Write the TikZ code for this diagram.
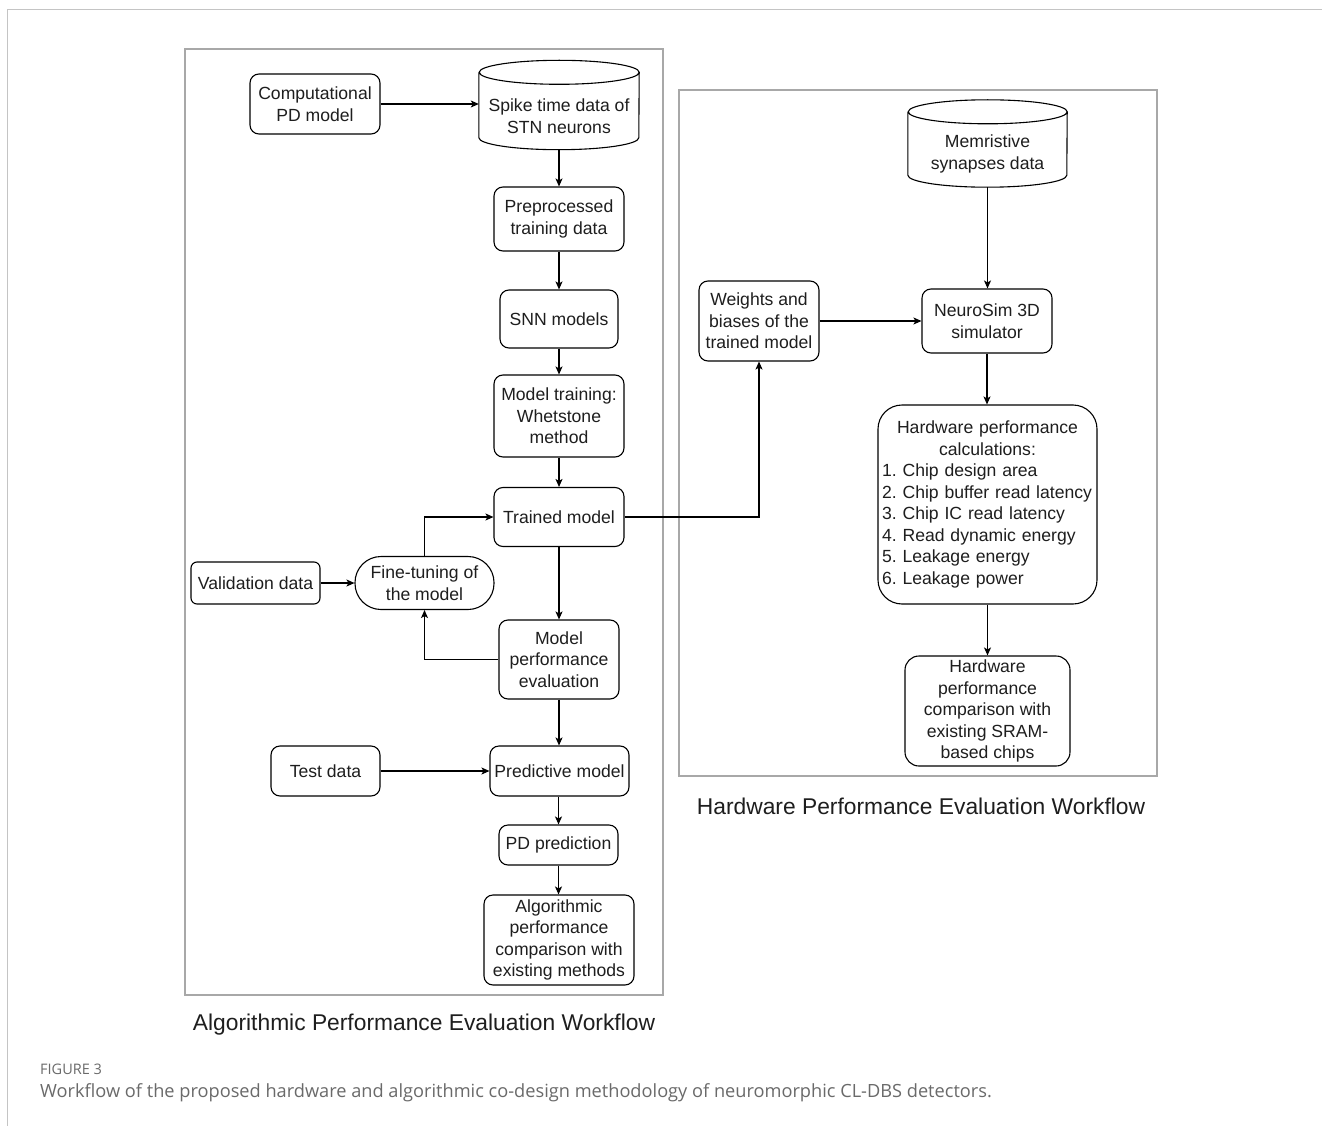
\documentclass[tikz,border=0pt]{standalone}
\usepackage{fontspec}
\setmainfont{Liberation Sans}
\newfontfamily\capfont{Open Sans}
\usetikzlibrary{arrows.meta}
\frenchspacing
\definecolor{panelgray}{HTML}{A8A8A8}
\definecolor{framegray}{HTML}{C4C4C4}
\definecolor{txt}{HTML}{1E1E1E}
\definecolor{capgray}{HTML}{6A6A6A}
\newcommand\mycyl[3]{% node, half width, ry
  \draw[line width=1.1pt] ([yshift=-#3]#1.north west) -- ([yshift=#3]#1.south west)
    arc[start angle=180,end angle=360,x radius=#2,y radius=#3]
    -- ([yshift=-#3]#1.north east)
    arc[start angle=0,end angle=180,x radius=#2,y radius=#3]
    arc[start angle=180,end angle=360,x radius=#2,y radius=#3];}
\begin{document}
\begin{tikzpicture}[x=1pt,y=-1pt,
  box/.style={draw=black, line width=1.1pt, rounded corners=9pt, align=center, inner sep=0pt, text=txt, font=\fontsize{17.6}{21.5}\selectfont},
  plain/.style={align=center, inner sep=0pt, text=txt, font=\fontsize{17.6}{21.5}\selectfont},
  cylbox/.style={inner sep=0pt},
  arr/.style={-{Stealth[length=8pt,width=7pt,inset=2pt]}, line width=1.1pt},
  panel/.style={draw=panelgray, line width=2.5pt},
  title/.style={inner sep=0pt, text=txt, font=\fontsize{22.8}{26}\selectfont},
]
\useasboundingbox[fill=white] (0,0) rectangle (1322,1126);
% outer frame
\draw[framegray, line width=1pt] (1322,10) -- (7,10) -- (7,1126);
% panels
\draw[panel] (185,49) rectangle (663,995);
\draw[panel] (679,90) rectangle (1157,776);

% ---- left workflow ----
\node[box, minimum width=130pt, minimum height=60pt] (comp) at (315,104) {Computational\\PD model};
\node[cylbox, minimum width=160pt, minimum height=89pt] (spike) at (559,105) {};
\mycyl{spike}{80pt}{12pt}
\node[plain] (spiket) at (559,116) {Spike time data of\\STN neurons};
\node[box, minimum width=130pt, minimum height=64pt] (pre) at (559,219) {Preprocessed\\training data};
\node[box, minimum width=118pt, minimum height=58pt] (snn) at (559,319) {SNN models};
\node[box, minimum width=130pt, minimum height=82pt] (train) at (559,416) {Model training:\\Whetstone\\method};
\node[box, minimum width=130pt, minimum height=59pt] (trained) at (559,517) {Trained model};
\node[box, minimum width=129pt, minimum height=42pt, rounded corners=6pt] (val) at (255.5,583) {Validation data};
\node[box, minimum width=139pt, minimum height=53pt, rounded corners=26pt] (fine) at (424.5,583) {Fine-tuning of\\the model};
\node[box, minimum width=120pt, minimum height=79pt] (eval) at (559,659.5) {Model\\performance\\evaluation};
\node[box, minimum width=109pt, minimum height=50pt] (test) at (325.5,771) {Test data};
\node[box, minimum width=139pt, minimum height=50pt] (pred) at (559.5,771) {Predictive model};
\node[box, minimum width=119pt, minimum height=40pt] (pdp) at (558.5,845) {PD prediction};
\node[box, minimum width=150pt, minimum height=90pt] (algo) at (559,940) {Algorithmic\\performance\\comparison with\\existing methods};
\node[title] (algotitle) at (424,1025) {Algorithmic Performance Evaluation Workflow};

% ---- right workflow ----
\node[cylbox, minimum width=159pt, minimum height=87pt] (mem) at (987.5,143.5) {};
\mycyl{mem}{79.5pt}{12pt}
\node[plain] (memt) at (987.5,154) {Memristive\\synapses data};
\node[box, minimum width=120pt, minimum height=80pt] (wts) at (759,321) {Weights and\\biases of the\\trained model};
\node[box, minimum width=130pt, minimum height=64pt] (neuro) at (987,321) {NeuroSim 3D\\simulator};
\node[box, minimum width=219pt, minimum height=199pt, rounded corners=24pt, align=left, text width=211pt] (calc) at (987.5,504.5)
  {\makebox[211pt][c]{Hardware performance}\\\makebox[211pt][c]{calculations:}\\1. Chip design area\\2. Chip buffer read latency\\3. Chip IC read latency\\4. Read dynamic energy\\5. Leakage energy\\6. Leakage power};
\node[box, minimum width=165pt, minimum height=110pt, rounded corners=14pt] (hwc) at (987.5,711) {Hardware\\performance\\comparison with\\existing SRAM-\\based chips};
\node[title] (hwtitle) at (921,806) {Hardware Performance Evaluation Workflow};

% ---- connectors ----
\draw[arr] (comp.east) -- (comp.east -| spike.west);
\draw[arr] (spike.south) -- (pre.north);
\draw[arr] (pre.south) -- (snn.north);
\draw[arr] (snn.south) -- (train.north);
\draw[arr] (train.south) -- (trained.north);
\draw[arr] (trained.south) -- (eval.north);
\draw[arr] (val.east) -- (fine.west);
\draw[arr] (fine.north) |- (trained.west);
\draw[arr] (eval.west) -| (fine.south);
\draw[arr] (eval.south) -- (eval.south |- pred.north);
\draw[arr] (test.east) -- (pred.west);
\draw[arr] (pdp.north |- pred.south) -- (pdp.north);
\draw[arr] (pdp.south) -- (pdp.south |- algo.north);
\draw[arr] (trained.east) -| (wts.south);
\draw[arr] (wts.east) -- (neuro.west);
\draw[arr] (mem.south) -- (mem.south |- neuro.north);
\draw[arr] (neuro.south) -- (neuro.south |- calc.north);
\draw[arr] (calc.south) -- (hwc.north);

% ---- figure caption ----
\node[anchor=west, inner sep=0pt, text=capgray, font=\capfont\fontsize{14.5}{16}\selectfont] (figlabel) at (40,1069) {FIGURE 3};
\node[anchor=west, inner sep=0pt, text=capgray, font=\capfont\fontsize{18.2}{21}\selectfont] (figcap) at (40,1093) {Workflow of the proposed hardware and algorithmic co-design methodology of neuromorphic CL-DBS detectors.};
\end{tikzpicture}
\end{document}
